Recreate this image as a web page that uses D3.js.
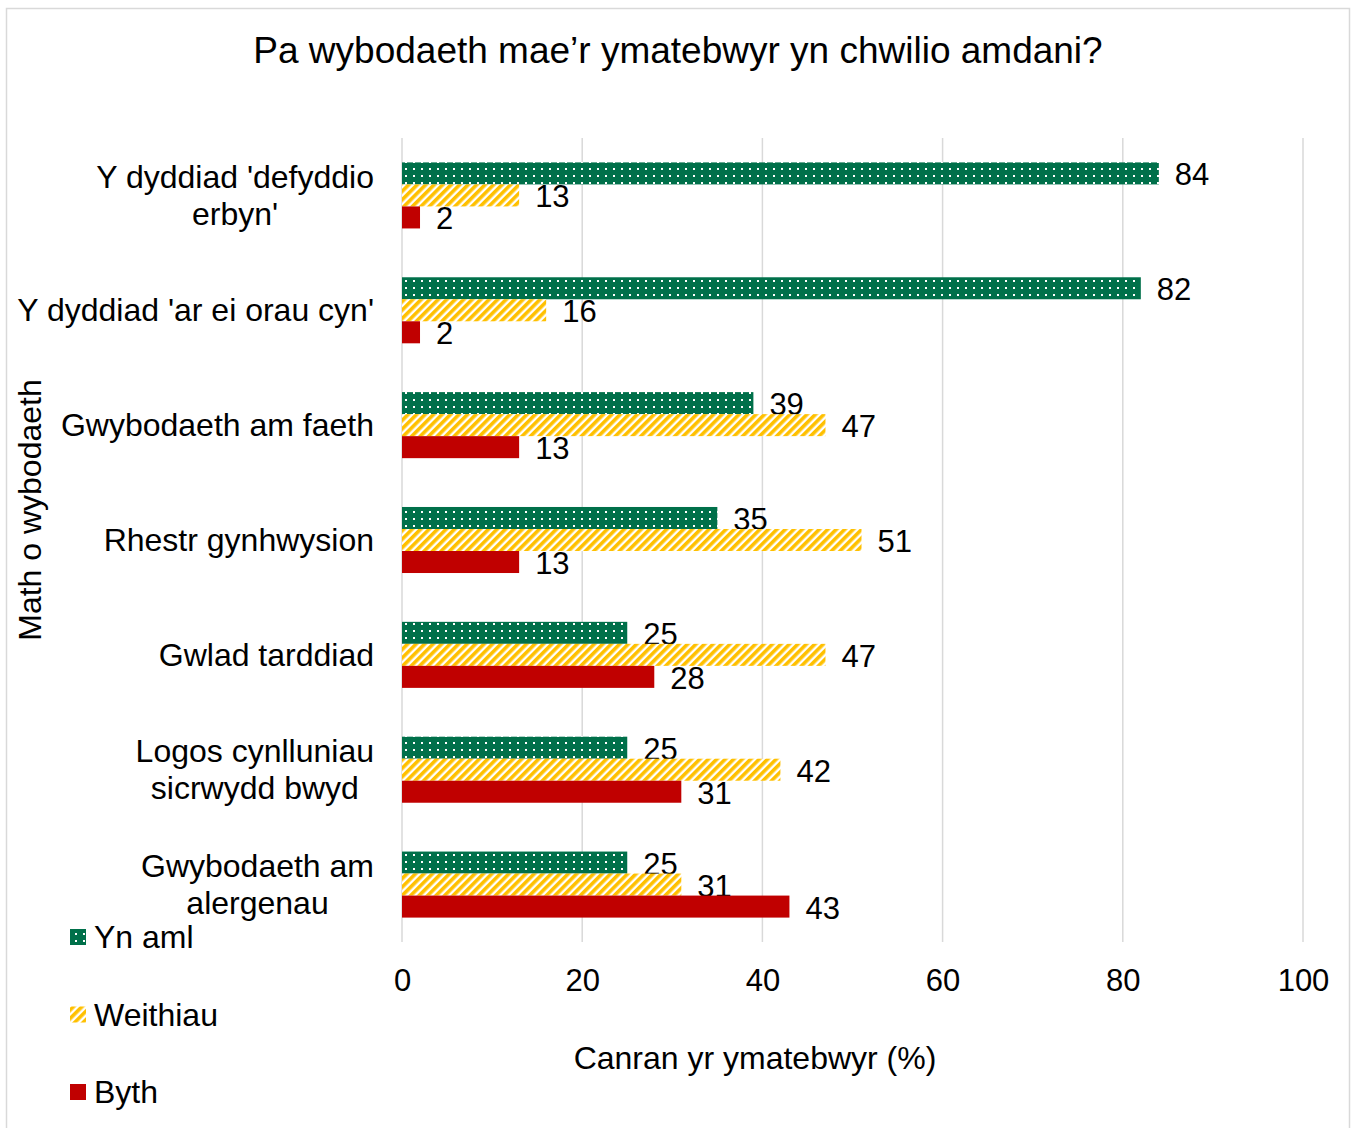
<!DOCTYPE html>
<html>
<head>
<meta charset="utf-8">
<script src="https://cdn.jsdelivr.net/npm/d3@7"></script>
<style>
  body { margin: 0; background: #fff; }
  text { font-family: "Liberation Sans", Arial, sans-serif; fill: #000; }
</style>
</head>
<body>
<div id="chart"></div>
<script>
var svgWidth = 1356;
var svgHeight = 1128;

var categories = [
  "Y dyddiad 'defyddio|erbyn'",
  "Y dyddiad 'ar ei orau cyn'",
  "Gwybodaeth am faeth",
  "Rhestr gynhwysion",
  "Gwlad tarddiad",
  "Logos cynlluniau|sicrwydd bwyd",
  "Gwybodaeth am|alergenau"
];
var seriesNames = ["Yn aml", "Weithiau", "Byth"];
var ynAml = [84, 82, 39, 35, 25, 25, 25];
var weithiau = [13, 16, 47, 51, 47, 42, 31];
var byth = [2, 2, 13, 13, 28, 31, 43];
var xTicks = [0, 20, 40, 60, 80, 100];

var seriesValues = [ynAml, weithiau, byth];
var fills = ["url(#dots)", "url(#hatch)", "#C00000"];

var margin = { top: 138, right: 53, bottom: 186, left: 402 };
var width = svgWidth - margin.left - margin.right;
var height = svgHeight - margin.top - margin.bottom;

var svg = d3.select("#chart")
  .append("svg")
  .attr("width", svgWidth)
  .attr("height", svgHeight);

// patterns
var defs = svg.append("defs");
var dots = defs.append("pattern")
  .attr("id", "dots")
  .attr("patternUnits", "userSpaceOnUse")
  .attr("width", 8)
  .attr("height", 7);
dots.append("rect").attr("width", 8).attr("height", 7).attr("fill", "#00704A");
dots.append("rect").attr("x", 3).attr("y", 2).attr("width", 2).attr("height", 2).attr("fill", "#fff");

var hatch = defs.append("pattern")
  .attr("id", "hatch")
  .attr("patternUnits", "userSpaceOnUse")
  .attr("width", 6)
  .attr("height", 6)
  .attr("patternTransform", "rotate(45)");
hatch.append("rect").attr("width", 6).attr("height", 6).attr("fill", "#fff");
hatch.append("rect").attr("width", 3.6).attr("height", 6).attr("fill", "#FFC000");

// frame
svg.append("rect")
  .attr("x", 6.5).attr("y", 8.5)
  .attr("width", 1343).attr("height", 1130)
  .attr("fill", "none")
  .attr("stroke", "#d9d9d9")
  .attr("stroke-width", 1.5);

svg.append("text")
  .attr("x", 678)
  .attr("y", 63)
  .attr("text-anchor", "middle")
  .style("font-size", "37px")
  .text("Pa wybodaeth mae\u2019r ymatebwyr yn chwilio amdani?");

var chartGroup = svg.append("g")
  .attr("transform", `translate(${margin.left}, ${margin.top})`);

var xScale = d3.scaleLinear().domain([0, 100]).range([0, width]);
var yScale = d3.scaleBand().domain(categories).range([0, height]).paddingInner(0.425).paddingOuter(0.2125);
var inner = d3.scaleBand().domain(seriesNames).range([0, yScale.bandwidth()]);

// gridlines
chartGroup.selectAll(".grid")
  .data(xTicks)
  .enter()
  .append("line")
  .attr("x1", d => xScale(d))
  .attr("x2", d => xScale(d))
  .attr("y1", 0)
  .attr("y2", height)
  .attr("stroke", "#d9d9d9")
  .attr("stroke-width", 1.5);

// x axis
var xAxis = chartGroup.append("g")
  .attr("transform", `translate(0, ${height})`)
  .call(d3.axisBottom(xScale).tickValues(xTicks).tickSize(0).tickPadding(27));
xAxis.select(".domain").remove();
xAxis.selectAll("text").style("font-size", "31px").attr("fill", "#000");

// category labels, centred block with right edge near the axis
var catLabels = chartGroup.selectAll(".cat")
  .data(categories)
  .enter()
  .append("text")
  .attr("text-anchor", "middle")
  .style("font-size", "32px")
  .attr("transform", d => `translate(0, ${yScale(d) + yScale.bandwidth() / 2})`);

catLabels.each(function(d) {
  var lines = d.split("|");
  var t = d3.select(this);
  lines.forEach(function(l, i) {
    t.append("tspan")
      .attr("x", 0)
      .attr("y", (i - (lines.length - 1) / 2) * 37 + 11)
      .text(l);
  });
  var bb = this.getBBox();
  t.selectAll("tspan").attr("x", -28 - bb.width / 2);
});

// bars
seriesNames.forEach(function(s, si) {
  var vals = seriesValues[si];
  chartGroup.selectAll(".bar" + si)
    .data(categories)
    .enter()
    .append("rect")
    .attr("x", 0)
    .attr("y", (d) => yScale(d) + inner(s))
    .attr("width", (d, i) => xScale(vals[i]))
    .attr("height", inner.bandwidth())
    .attr("fill", fills[si]);

  chartGroup.selectAll(".lbl" + si)
    .data(categories)
    .enter()
    .append("text")
    .attr("x", (d, i) => xScale(vals[i]) + 16)
    .attr("y", (d) => yScale(d) + inner(s) + inner.bandwidth() / 2 + 12)
    .style("font-size", "31px")
    .text((d, i) => vals[i]);
});

// axis titles
svg.append("text")
  .attr("x", 755)
  .attr("y", 1069)
  .attr("text-anchor", "middle")
  .style("font-size", "32px")
  .text("Canran yr ymatebwyr (%)");

svg.append("text")
  .attr("transform", "translate(41, 510) rotate(-90)")
  .attr("text-anchor", "middle")
  .style("font-size", "32px")
  .text("Math o wybodaeth");

// legend
var legend = svg.append("g");
seriesNames.forEach(function(s, i) {
  var ly = 937 + i * 77.5;
  legend.append("rect")
    .attr("x", 70)
    .attr("y", ly - 8)
    .attr("width", 16)
    .attr("height", 16)
    .attr("fill", fills[i]);
  legend.append("text")
    .attr("x", 94)
    .attr("y", ly + 11)
    .style("font-size", "32px")
    .text(s);
});
</script>
</body>
</html>
